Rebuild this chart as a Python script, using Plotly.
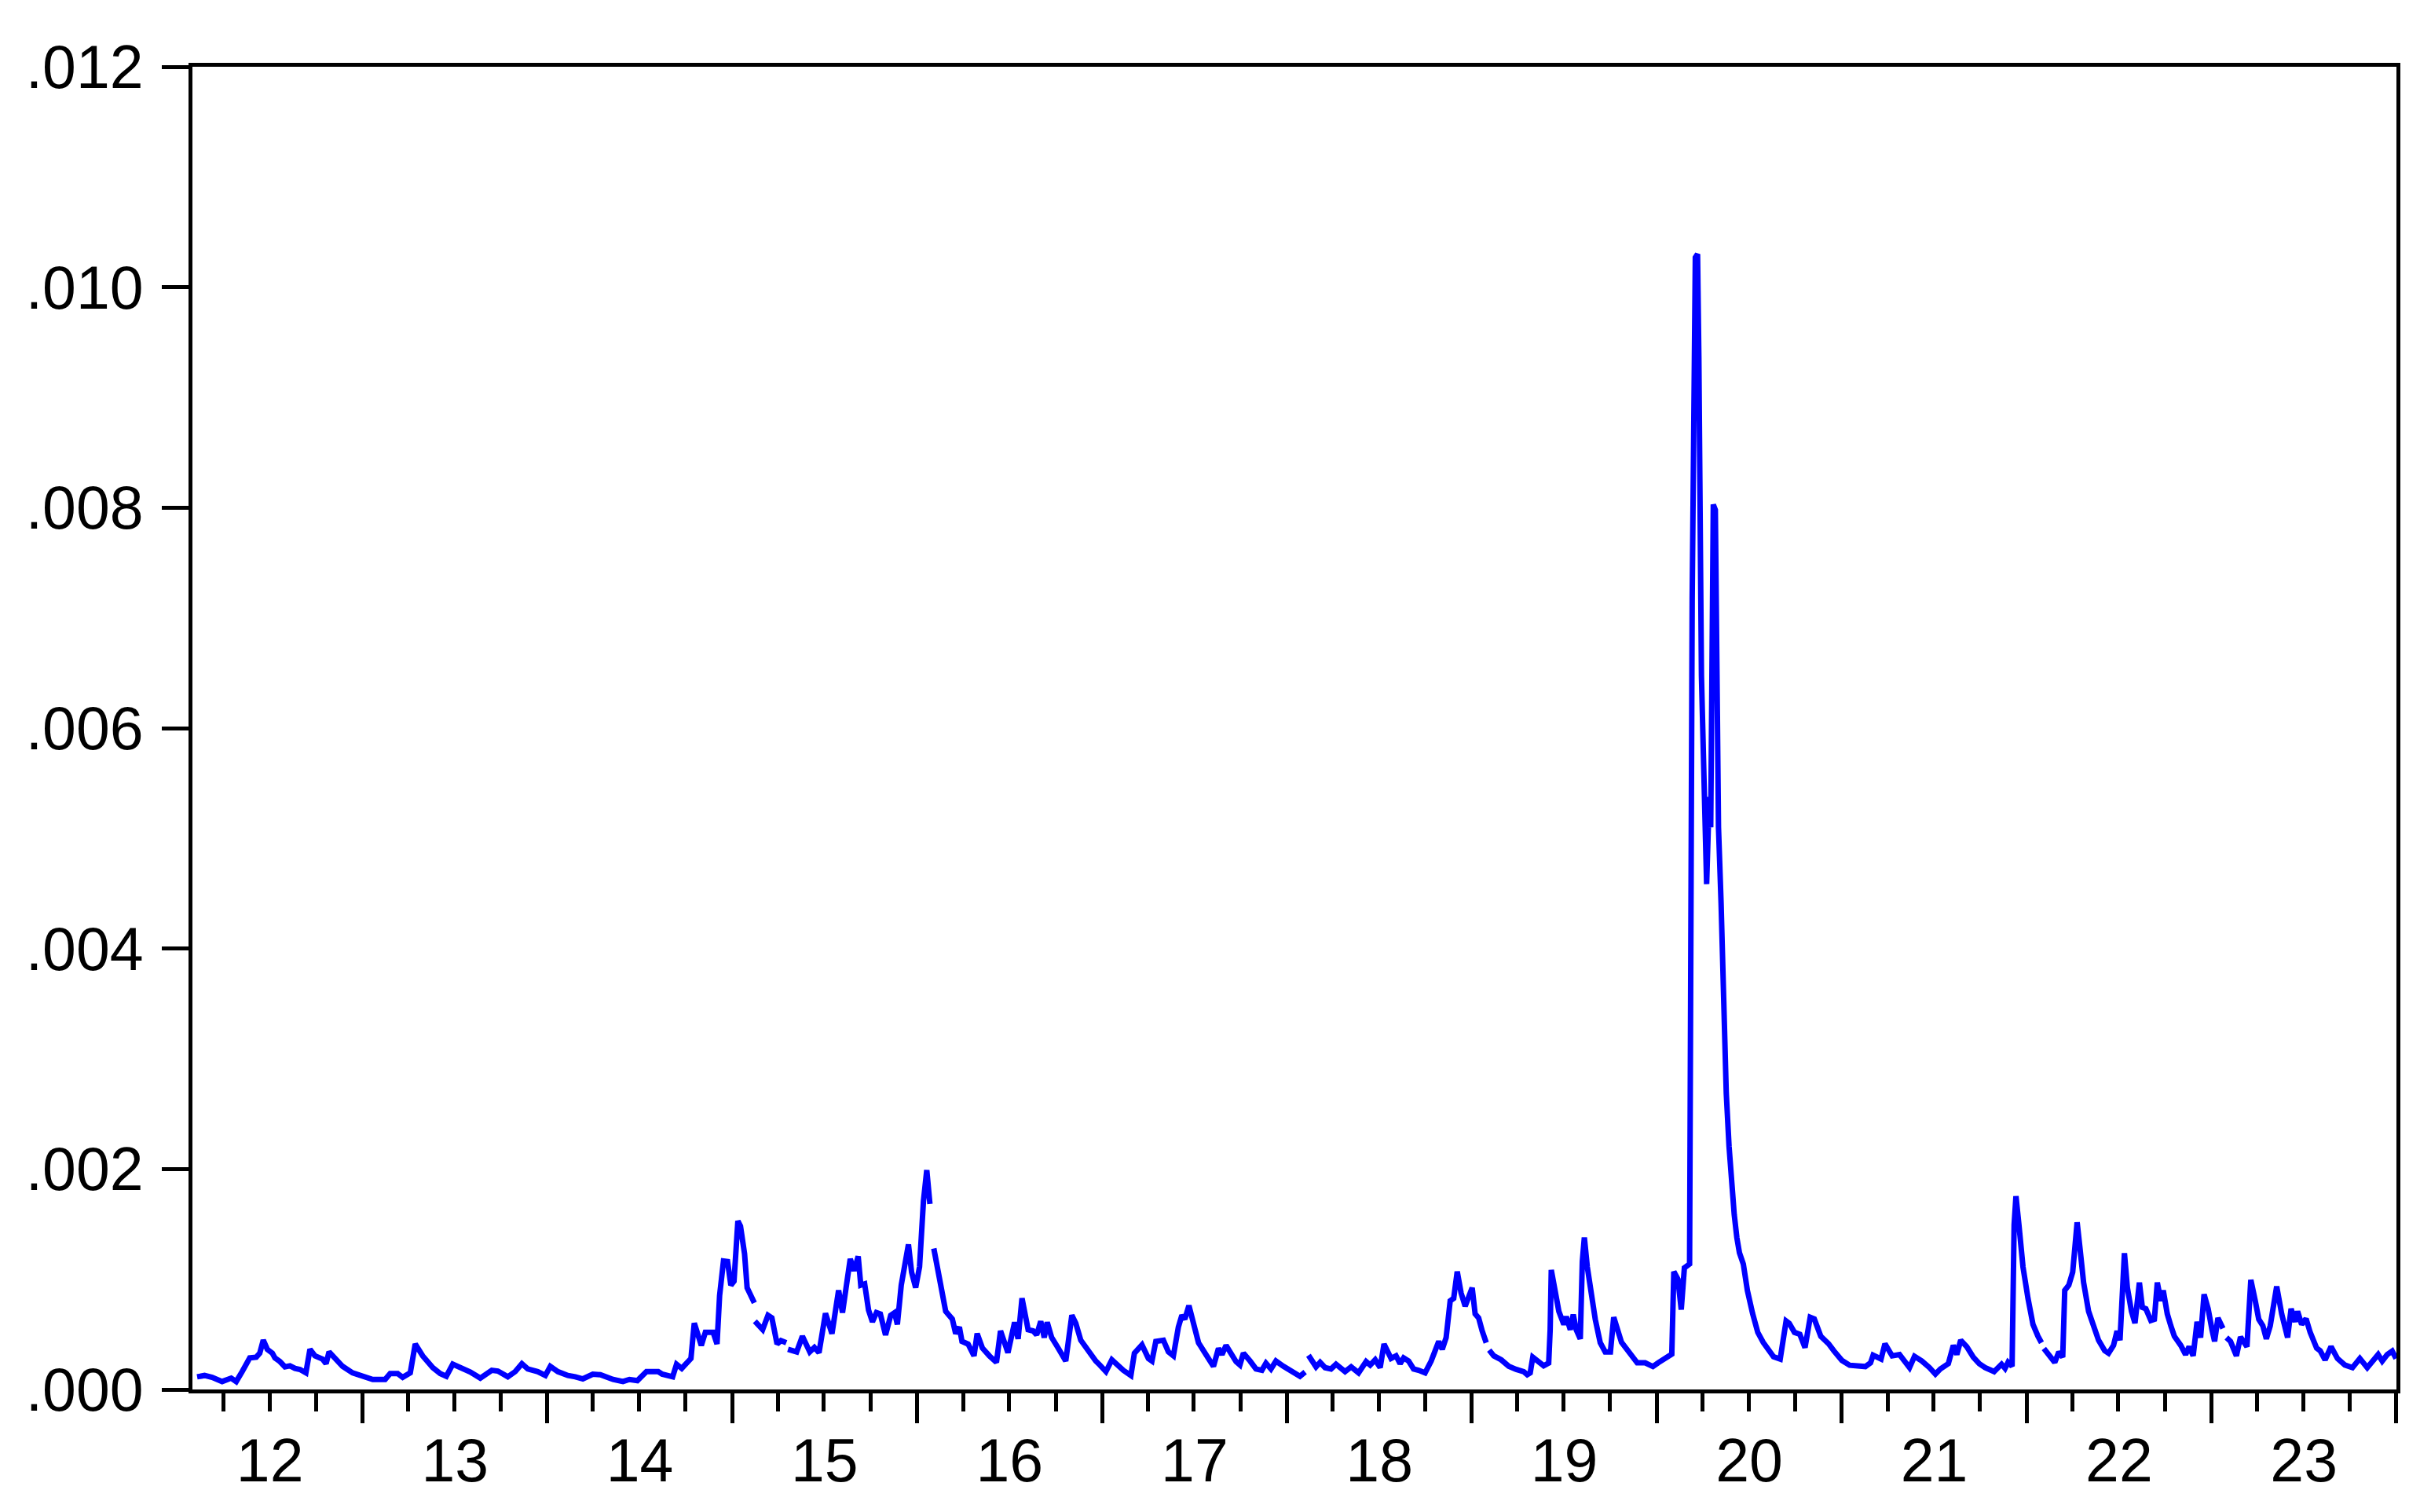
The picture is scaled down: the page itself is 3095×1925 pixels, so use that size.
import pandas as pd
import plotly.graph_objects as go

# decimal year of each reading; a None in VOL is a missing week (line break)
YEARS = [
    2012.107, 2012.147, 2012.188, 2012.242, 2012.291, 2012.318, 2012.350, 2012.391, 2012.426, 2012.445,
    2012.464, 2012.486, 2012.513, 2012.527, 2012.554, 2012.581, 2012.608, 2012.635, 2012.662, 2012.694,
    2012.716, 2012.743, 2012.784, 2012.803, 2012.819, 2012.851, 2012.892, 2012.946, 2013.000, 2013.055,
    2013.122, 2013.149, 2013.190, 2013.217, 2013.258, 2013.285, 2013.325, 2013.380, 2013.420, 2013.453,
    2013.488, 2013.529, 2013.583, 2013.637, 2013.699, 2013.732, 2013.786, 2013.826, 2013.862, 2013.894,
    2013.948, 2013.989, 2014.016, 2014.057, 2014.111, 2014.151, 2014.192, 2014.246, 2014.287, 2014.355,
    2014.409, 2014.444, 2014.487, 2014.536, 2014.600, 2014.621, 2014.678, 2014.699, 2014.727, 2014.777,
    2014.795, 2014.833, 2014.855, 2014.897, 2014.918, 2014.932, 2014.953, 2014.975, 2014.993, 2015.010,
    2015.031, 2015.045, 2015.067, 2015.081, 2015.102, 2015.120, 2015.121, 2015.123, 2015.165, 2015.194,
    2015.215, 2015.243, 2015.264, 2015.293, 2015.297, 2015.302, 2015.349, 2015.380, 2015.420, 2015.445,
    2015.470, 2015.505, 2015.540, 2015.576, 2015.597, 2015.639, 2015.660, 2015.682, 2015.696, 2015.717,
    2015.738, 2015.759, 2015.781, 2015.802, 2015.830, 2015.858, 2015.879, 2015.894, 2015.915, 2015.954,
    2015.971, 2015.993, 2016.014, 2016.035, 2016.053, 2016.070, 2016.080, 2016.091, 2016.127, 2016.155,
    2016.191, 2016.209, 2016.229, 2016.243, 2016.276, 2016.308, 2016.325, 2016.353, 2016.391, 2016.429,
    2016.451, 2016.491, 2016.527, 2016.546, 2016.567, 2016.600, 2016.627, 2016.646, 2016.668, 2016.687,
    2016.703, 2016.727, 2016.762, 2016.803, 2016.836, 2016.857, 2016.884, 2016.925, 2016.965, 2016.987,
    2017.020, 2017.052, 2017.079, 2017.114, 2017.155, 2017.174, 2017.215, 2017.250, 2017.269, 2017.290,
    2017.331, 2017.358, 2017.385, 2017.412, 2017.431, 2017.447, 2017.469, 2017.494, 2017.521, 2017.548,
    2017.575, 2017.602, 2017.629, 2017.648, 2017.670, 2017.697, 2017.724, 2017.745, 2017.764, 2017.800,
    2017.832, 2017.864, 2017.886, 2017.913, 2017.940, 2017.981, 2018.022, 2018.070, 2018.098, 2018.107,
    2018.116, 2018.157, 2018.179, 2018.206, 2018.238, 2018.265, 2018.314, 2018.347, 2018.387, 2018.428,
    2018.450, 2018.477, 2018.504, 2018.525, 2018.563, 2018.590, 2018.612, 2018.631, 2018.658, 2018.685,
    2018.712, 2018.747, 2018.780, 2018.807, 2018.821, 2018.840, 2018.861, 2018.883, 2018.902, 2018.921,
    2018.942, 2018.964, 2018.983, 2019.002, 2019.018, 2019.037, 2019.056, 2019.078, 2019.086, 2019.094,
    2019.119, 2019.159, 2019.200, 2019.240, 2019.281, 2019.300, 2019.316, 2019.330, 2019.362, 2019.389,
    2019.416, 2019.424, 2019.430, 2019.451, 2019.471, 2019.498, 2019.511, 2019.533, 2019.549, 2019.565,
    2019.587, 2019.598, 2019.609, 2019.625, 2019.646, 2019.668, 2019.695, 2019.722, 2019.750, 2019.768,
    2019.810, 2019.853, 2019.895, 2019.938, 2019.980, 2020.008, 2020.065, 2020.082, 2020.093, 2020.115,
    2020.133, 2020.150, 2020.178, 2020.192, 2020.209, 2020.221, 2020.228, 2020.235, 2020.242, 2020.270,
    2020.284, 2020.292, 2020.306, 2020.317, 2020.324, 2020.334, 2020.348, 2020.362, 2020.376, 2020.391,
    2020.405, 2020.419, 2020.433, 2020.447, 2020.468, 2020.490, 2020.518, 2020.546, 2020.575, 2020.603,
    2020.631, 2020.667, 2020.699, 2020.716, 2020.744, 2020.773, 2020.801, 2020.829, 2020.851, 2020.886,
    2020.928, 2020.957, 2021.000, 2021.042, 2021.084, 2021.127, 2021.155, 2021.169, 2021.212, 2021.233,
    2021.272, 2021.312, 2021.339, 2021.366, 2021.393, 2021.433, 2021.474, 2021.506, 2021.533, 2021.555,
    2021.576, 2021.603, 2021.622, 2021.643, 2021.676, 2021.711, 2021.743, 2021.775, 2021.824, 2021.864,
    2021.883, 2021.899, 2021.921, 2021.932, 2021.942, 2021.958, 2021.980, 2022.007, 2022.034, 2022.061,
    2022.080, 2022.087, 2022.093, 2022.120, 2022.152, 2022.174, 2022.195, 2022.206, 2022.228, 2022.249,
    2022.260, 2022.273, 2022.287, 2022.308, 2022.335, 2022.362, 2022.389, 2022.422, 2022.443, 2022.470,
    2022.489, 2022.505, 2022.516, 2022.529, 2022.545, 2022.567, 2022.586, 2022.599, 2022.610, 2022.626,
    2022.645, 2022.672, 2022.691, 2022.707, 2022.726, 2022.739, 2022.761, 2022.780, 2022.799, 2022.834,
    2022.860, 2022.879, 2022.901, 2022.922, 2022.941, 2022.960, 2022.982, 2023.003, 2023.017, 2023.035,
    2023.062, 2023.071, 2023.081, 2023.103, 2023.135, 2023.157, 2023.192, 2023.202, 2023.213, 2023.237,
    2023.256, 2023.278, 2023.297, 2023.318, 2023.353, 2023.380, 2023.412, 2023.431, 2023.453, 2023.466,
    2023.488, 2023.512, 2023.534, 2023.569, 2023.588, 2023.615, 2023.647, 2023.682, 2023.722, 2023.763,
    2023.803, 2023.843, 2023.884, 2023.902, 2023.924, 2023.951, 2023.978, 2023.999,
]

# readings in thousandths
VOL = [
    0.115, 0.127, 0.110, 0.072, 0.103, 0.072, 0.162, 0.286, 0.293, 0.329,
    0.447, 0.364, 0.329, 0.286, 0.253, 0.205, 0.215, 0.191, 0.182, 0.151,
    0.364, 0.305, 0.276, 0.234, 0.341, 0.281, 0.210, 0.151, 0.115, 0.091,
    0.091, 0.144, 0.144, 0.110, 0.151, 0.412, 0.305, 0.198, 0.144, 0.120,
    0.229, 0.198, 0.158, 0.103, 0.174, 0.167, 0.115, 0.162, 0.234, 0.186,
    0.162, 0.127, 0.210, 0.162, 0.127, 0.115, 0.096, 0.139, 0.134, 0.091,
    0.072, 0.091, 0.080, 0.162, 0.162, 0.139, 0.115, 0.229, 0.191, 0.281,
    0.602, 0.400, 0.519, 0.519, 0.412, 0.851, 1.165, 1.160, 0.946, 0.982,
    1.528, 1.481, 1.231, 0.923, 0.839, 0.785, None, 0.619, 0.543, 0.673,
    0.650, 0.412, 0.443, 0.424, None, 0.365, 0.341, 0.483, 0.341, 0.381,
    0.334, 0.690, 0.507, 0.899, 0.697, 1.184, 1.077, 1.208, 0.946, 0.958,
    0.721, 0.614, 0.697, 0.685, 0.495, 0.673, 0.697, 0.590, 0.946, 1.315,
    1.065, 0.923, 1.113, 1.706, 1.990, 1.683, None, 1.279, 0.923, 0.709,
    0.638, 0.507, 0.566, 0.436, 0.412, 0.305, 0.507, 0.376, 0.305, 0.246,
    0.531, 0.334, 0.609, 0.459, 0.827, 0.542, 0.531, 0.495, 0.619, 0.471,
    0.609, 0.471, 0.376, 0.258, 0.673, 0.602, 0.447, 0.341, 0.258, 0.222,
    0.162, 0.269, 0.222, 0.174, 0.127, 0.329, 0.405, 0.281, 0.258, 0.436,
    0.447, 0.341, 0.305, 0.566, 0.673, 0.637, 0.761, 0.590, 0.424, 0.352,
    0.269, 0.210, 0.372, 0.317, 0.400, 0.329, 0.253, 0.222, 0.329, 0.258,
    0.186, 0.174, 0.239, 0.186, 0.258, 0.210, 0.167, 0.120, 0.158, None,
    0.310, 0.205, 0.246, 0.198, 0.186, 0.229, 0.162, 0.205, 0.151, 0.253,
    0.222, 0.269, 0.198, 0.412, 0.281, 0.305, 0.234, 0.286, 0.258, 0.186,
    0.174, 0.151, 0.258, 0.376, 0.436, 0.364, 0.471, 0.804, 0.827, 1.070,
    0.875, 0.756, 0.839, 0.922, 0.685, 0.649, 0.531, 0.424, None, 0.357,
    0.305, 0.269, 0.210, 0.182, 0.162, 0.134, 0.151, 0.293, 0.258, 0.215,
    0.239, 0.542, 1.084, 0.899, 0.709, 0.590, 0.661, 0.542, 0.680, 0.542,
    0.459, 1.160, 1.378, 1.112, 0.875, 0.637, 0.424, 0.341, 0.341, 0.655,
    0.428, 0.331, 0.242, 0.242, 0.208, 0.242, 0.297, 0.320, 1.069, 1.000,
    0.725, 1.104, 1.138, 7.167, 10.27, 10.30, 9.37, 7.857, 6.478, 4.584,
    5.376, 5.100, 8.028, 7.980, 6.478, 5.100, 4.411, 3.377, 2.688, 2.206,
    1.862, 1.586, 1.379, 1.241, 1.138, 0.897, 0.690, 0.518, 0.428, 0.366,
    0.297, 0.276, 0.621, 0.600, 0.518, 0.500, 0.380, 0.655, 0.640, 0.483,
    0.415, 0.350, 0.263, 0.220, 0.208, 0.208, 0.242, 0.311, 0.276, 0.415,
    0.305, 0.317, 0.258, 0.198, 0.300, 0.258, 0.198, 0.139, 0.186, 0.215,
    0.234, 0.400, 0.317, 0.447, 0.388, 0.293, 0.234, 0.198, 0.162, 0.229,
    0.191, 0.246, 0.210, 1.493, 1.754, 1.493, 1.112, 0.827, 0.590, 0.483,
    0.424, None, 0.372, 0.305, 0.246, 0.341, 0.293, 0.899, 0.946, 1.065,
    1.255, 1.516, 1.303, 0.970, 0.709, 0.566, 0.447, 0.352, 0.329, 0.400,
    0.531, 0.447, 0.875, 1.236, 0.922, 0.709, 0.602, 0.780, 0.970, 0.744,
    0.732, 0.626, 0.637, 0.970, 0.804, 0.899, 0.685, 0.578, 0.483, 0.400,
    0.317, 0.388, 0.305, 0.614, 0.471, 0.863, 0.732, 0.542, 0.436, 0.649,
    0.554, None, 0.471, 0.436, 0.305, 0.476, 0.388, 0.637, 0.994, 0.804,
    0.637, 0.578, 0.459, 0.578, 0.934, 0.685, 0.471, 0.732, 0.614, 0.709,
    0.590, 0.642, 0.519, 0.376, 0.352, 0.269, 0.388, 0.281, 0.222, 0.198,
    0.281, 0.198, 0.269, 0.317, 0.258, 0.317, 0.348, 0.281,
]

Y_TICKS = [0.0, 0.002, 0.004, 0.006, 0.008, 0.010, 0.012]
Y_LABELS = [".000", ".002", ".004", ".006", ".008", ".010", ".012"]

assert len(YEARS) == len(VOL)


def to_date(t):
    y = int(t)
    start = pd.Timestamp(year=y, month=1, day=1)
    end = pd.Timestamp(year=y + 1, month=1, day=1)
    return start + (end - start) * (t - y)


dates = [to_date(t) for t in YEARS]
vals = [None if v is None else v / 1000 for v in VOL]

FONT = dict(family="Liberation Sans, Arial", size=77, color="black")

fig = go.Figure(go.Scatter(
    x=dates, y=vals, mode="lines",
    line=dict(color="#0000FF", width=7),
    connectgaps=False,
))

fig.update_layout(
    width=3095, height=1925,
    margin=dict(l=245, r=44, t=85, b=156),
    plot_bgcolor="white", paper_bgcolor="white",
    showlegend=False,
    font=FONT,
)

fig.update_xaxes(
    type="date",
    range=[to_date(2012.0817), to_date(2024.001)],
    showgrid=False, zeroline=False,
    showline=True, linecolor="black", linewidth=5, mirror=True,
    ticks="outside", ticklen=38, tickwidth=5, tickcolor="black",
    tick0="2012-01-01", dtick="M12", tickformat="%y",
    ticklabelmode="period", ticklabelstandoff=-18,
    minor=dict(dtick="M3", tick0="2012-01-01", ticks="outside", ticklen=23,
               tickwidth=5, tickcolor="black", showgrid=False),
    tickfont=FONT,
)

fig.update_yaxes(
    range=[0, 0.012],
    showgrid=False, zeroline=False,
    showline=True, linecolor="black", linewidth=5, mirror=True,
    ticks="outside", ticklen=34, tickwidth=5, tickcolor="black",
    tickvals=Y_TICKS, ticktext=Y_LABELS, ticklabelstandoff=8,
    tickfont=FONT,
)

fig.write_html("out.html", config={"displayModeBar": False},
               post_script="document.body.style.margin='0';")
